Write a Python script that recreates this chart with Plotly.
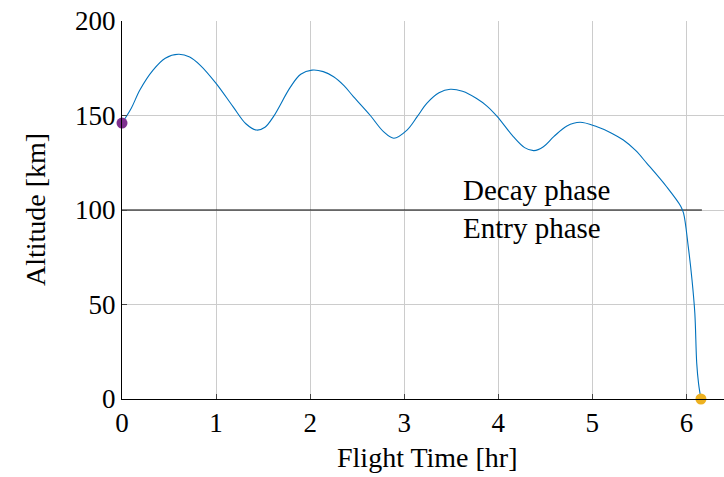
import plotly.graph_objects as go

# Data
flight_time = [0, 0.1, 0.19, 0.33, 0.46, 0.6, 0.72, 0.83, 1.0, 1.18, 1.32, 1.43, 1.52, 1.61,
               1.79, 1.9, 2.02, 2.14, 2.25, 2.36, 2.46, 2.64, 2.78, 2.89, 3.03, 3.14, 3.24,
               3.37, 3.49, 3.62, 3.77, 3.88, 3.99, 4.16, 4.28, 4.38, 4.48, 4.59, 4.73, 4.87,
               5.05, 5.2, 5.33, 5.46, 5.58, 5.79, 5.94, 5.97, 6.02, 6.06, 6.09, 6.11, 6.13,
               6.155]
altitude = [146, 154, 163.5, 174, 180.3, 182.4, 181, 176.7, 167, 154.7, 145.5, 142.3, 143.8,
            149.4, 165, 171.8, 174, 173.2, 170.5, 165.8, 160, 150, 141.5, 138, 142.3, 149.5,
            156.4, 162, 163.9, 162.8, 159, 155, 149.4, 138.8, 133, 131.4, 133.5, 138.8, 144.5,
            146.4, 144, 140.8, 137, 131.5, 124.7, 112.3, 102, 98.3, 80.6, 63, 45.3, 19, 8, 0]
start_point = (0, 146)
end_point = (6.155, 0)
phase_boundary_x = [0, 6.165]
phase_boundary_y = [100, 100]
x_ticks = [0, 1, 2, 3, 4, 5, 6]
y_ticks = [0, 50, 100, 150, 200]

FONT = "Liberation Serif"
TXT = 29
TICK = 27

fig = go.Figure()
fig.add_trace(go.Scatter(x=phase_boundary_x, y=phase_boundary_y, mode="lines",
                         line=dict(color="black", width=1), showlegend=False))
fig.add_trace(go.Scatter(x=flight_time, y=altitude, mode="lines",
                         line=dict(color="#0072BD", width=1.1, shape="spline", smoothing=1.0),
                         showlegend=False))
fig.add_trace(go.Scatter(x=[start_point[0]], y=[start_point[1]], mode="markers",
                         marker=dict(color="#7E2F8E", size=11), cliponaxis=False,
                         showlegend=False))
fig.add_trace(go.Scatter(x=[end_point[0]], y=[end_point[1]], mode="markers",
                         marker=dict(color="#EDB120", size=11), cliponaxis=False,
                         showlegend=False))

fig.add_annotation(x=3.6, y=110.6, text="Decay phase", showarrow=False,
                   xanchor="left", yanchor="middle", font=dict(family=FONT, size=TXT, color="black"))
fig.add_annotation(x=3.6, y=90.5, text="Entry phase", showarrow=False,
                   xanchor="left", yanchor="middle", font=dict(family=FONT, size=TXT, color="black"))

# axis titles
fig.add_annotation(xref="paper", yref="paper", x=(427 - 122) / 602, y=-(457 - 399) / 378,
                   text="Flight Time [hr]", showarrow=False, xanchor="center", yanchor="middle",
                   font=dict(family=FONT, size=28, color="black"))
fig.add_annotation(xref="paper", yref="paper", x=-(122 - 35) / 602, y=(399 - 210) / 378,
                   text="Altitude [km]", showarrow=False, xanchor="center", yanchor="middle",
                   textangle=-90, font=dict(family=FONT, size=28, color="black"))

fig.update_layout(
    width=724, height=477,
    margin=dict(l=122, r=0, t=21, b=78),
    plot_bgcolor="white", paper_bgcolor="white",
    font=dict(family=FONT, size=TICK, color="black"),
)
fig.update_xaxes(range=[0, 6.4], tickvals=x_ticks, ticks="inside", ticklen=5,
                 tickcolor="#444", showgrid=True, gridcolor="#cccccc", gridwidth=1,
                 showline=True, linecolor="black", linewidth=1, zeroline=False,
                 tickfont=dict(family=FONT, size=TICK))
fig.update_yaxes(range=[0, 200], tickvals=y_ticks, ticks="inside", ticklen=5,
                 tickcolor="#444", showgrid=True, gridcolor="#cccccc", gridwidth=1,
                 showline=True, linecolor="black", linewidth=1, zeroline=False,
                 tickfont=dict(family=FONT, size=TICK))

fig.write_html("out.html")
